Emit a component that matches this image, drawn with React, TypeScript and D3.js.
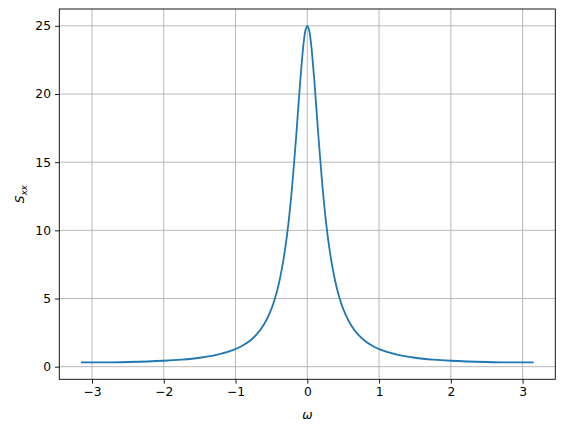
import React, { useEffect, useRef } from 'react';
import * as d3 from 'd3';

// spectrum values (symmetric around 0)
const omega = [
  -3.1416, -2.75, -2.5, -2.0, -1.75, -1.5, -1.25, -1.0, -0.9, -0.8, -0.7, -0.6,
  -0.5, -0.45, -0.4, -0.35, -0.3, -0.25, -0.2, -0.15, -0.1, -0.05, -0.025,
  0,
  0.025, 0.05, 0.1, 0.15, 0.2, 0.25, 0.3, 0.35, 0.4, 0.45, 0.5,
  0.6, 0.7, 0.8, 0.9, 1.0, 1.25, 1.5, 1.75, 2.0, 2.5, 2.75, 3.1416,
];
const sxx = [
  0.309, 0.321, 0.342, 0.434, 0.519, 0.655, 0.88, 1.29, 1.55, 1.90, 2.40, 3.13,
  4.24, 5.02, 6.01, 7.30, 8.97, 11.14, 13.91, 17.25, 20.84, 23.8, 24.69,
  25.0,
  24.69, 23.8, 20.84, 17.25, 13.91, 11.14, 8.97, 7.30, 6.01, 5.02, 4.24,
  3.13, 2.40, 1.90, 1.55, 1.29, 0.88, 0.655, 0.519, 0.434, 0.342, 0.321, 0.309,
];
const xTicks = [-3, -2, -1, 0, 1, 2, 3];
const yTicks = [0, 5, 10, 15, 20, 25];

const W = 565;
const H = 432;
const margin = { top: 9, right: 9.7, bottom: 52.7, left: 59.3 };

export default function App() {
  const svgRef = useRef<SVGSVGElement>(null);

  useEffect(() => {
    if (!svgRef.current) return;
    const svg = d3.select(svgRef.current);
    svg.selectAll('*').remove();

    const x0 = margin.left;
    const x1 = W - margin.right;
    const y0 = H - margin.bottom;
    const y1 = margin.top;

    const xPad = (Math.PI * 2) * 0.05;
    const x = d3.scaleLinear().domain([-Math.PI - xPad, Math.PI + xPad]).range([x0, x1]);
    const yMin = d3.min(sxx) as number;
    const yMax = d3.max(sxx) as number;
    const yPad = (yMax - yMin) * 0.05;
    const y = d3.scaleLinear().domain([yMin - yPad, yMax + yPad]).range([y0, y1]);

    svg.append('rect').attr('width', W).attr('height', H).attr('fill', 'white');

    // grid
    const grid = svg.append('g').attr('stroke', '#b0b0b0').attr('stroke-width', 0.9);
    xTicks.forEach(t => {
      grid.append('line').attr('x1', x(t)).attr('x2', x(t)).attr('y1', y0).attr('y2', y1);
    });
    yTicks.forEach(t => {
      grid.append('line').attr('x1', x0).attr('x2', x1).attr('y1', y(t)).attr('y2', y(t));
    });

    // curve
    const line = d3.line<number>()
      .x((_, i) => x(omega[i]))
      .y(d => y(d))
      .curve(d3.curveCatmullRom.alpha(0.5));
    svg.append('path')
      .datum(sxx)
      .attr('d', line)
      .attr('fill', 'none')
      .attr('stroke', '#1f77b4')
      .attr('stroke-width', 1.8)
      .attr('stroke-linejoin', 'round')
      .attr('stroke-linecap', 'square');

    // axes
    const fmt = (d: number) => (d < 0 ? '\u2212' + Math.abs(d) : String(d));
    const xAxis = svg.append('g')
      .attr('transform', `translate(0,${y0})`)
      .call(d3.axisBottom(x).tickValues(xTicks).tickSize(4.3).tickPadding(4).tickFormat(d => fmt(d as number)));
    const yAxis = svg.append('g')
      .attr('transform', `translate(${x0},0)`)
      .call(d3.axisLeft(y).tickValues(yTicks).tickSize(4.3).tickPadding(4).tickFormat(d => fmt(d as number)));
    [xAxis, yAxis].forEach(g => {
      g.select('.domain').remove();
      g.selectAll('line').attr('stroke', 'black').attr('stroke-width', 0.9);
      g.selectAll('text')
        .attr('fill', 'black')
        .style('font-family', 'DejaVu Sans')
        .style('font-size', '12.3px');
    });

    // frame
    svg.append('rect')
      .attr('x', x0).attr('y', y1)
      .attr('width', x1 - x0).attr('height', y0 - y1)
      .attr('fill', 'none').attr('stroke', 'black').attr('stroke-width', 0.9);

    // labels
    svg.append('text')
      .attr('x', (x0 + x1) / 2)
      .attr('y', 419)
      .attr('text-anchor', 'middle')
      .style('font-family', 'DejaVu Sans')
      .style('font-size', '12.3px')
      .style('font-style', 'italic')
      .text('ω');

    const yl = svg.append('text')
      .attr('transform', `translate(24,${(y0 + y1) / 2}) rotate(-90)`)
      .attr('text-anchor', 'middle')
      .style('font-family', 'DejaVu Sans')
      .style('font-size', '12.3px')
      .style('font-style', 'italic');
    yl.append('tspan').text('S');
    yl.append('tspan').attr('dy', 2.5).style('font-size', '8.6px').text('xx');
  }, []);

  return (
    <div style={{ position: 'absolute', left: 0, top: 0 }}>
      <svg ref={svgRef} width={W} height={H} />
    </div>
  );
}
